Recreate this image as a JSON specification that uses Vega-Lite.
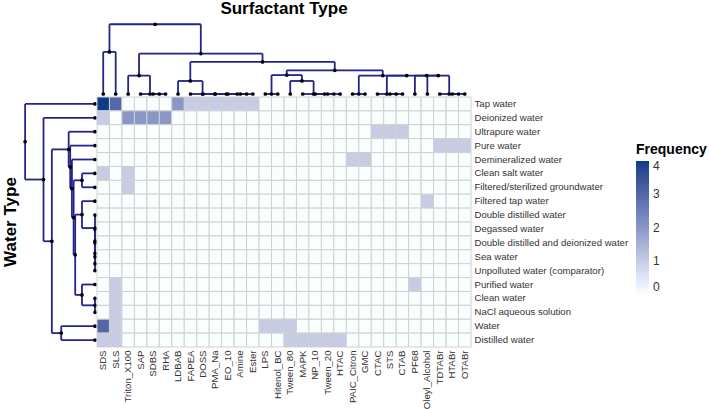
{
  "$schema": "https://vega.github.io/schema/vega-lite/v6.json",
  "padding": {"left": 1, "top": 0, "right": 0, "bottom": 0},
  "config": {
    "view": {"stroke": null},
    "font": "Liberation Sans"
  },
  "datasets": {
    "colLinks": [
      {"x": 4.5, "h": 0, "xl": 4, "hl": 0, "xr": 5, "hr": 0},
      {"x": 3.75, "h": 0, "xl": 3, "hl": 0, "xr": 4.5, "hr": 0},
      {"x": 2.875, "h": 1.41, "xl": 2, "hl": 0, "xr": 3.75, "hr": 0},
      {"x": 11.5, "h": 0, "xl": 11, "hl": 0, "xr": 12, "hr": 0},
      {"x": 10.75, "h": 0, "xl": 10, "hl": 0, "xr": 11.5, "hr": 0},
      {"x": 9.875, "h": 0, "xl": 9, "hl": 0, "xr": 10.75, "hr": 0},
      {"x": 8.9375, "h": 0, "xl": 8, "hl": 0, "xr": 9.875, "hr": 0},
      {"x": 7.9688, "h": 0, "xl": 7, "hl": 0, "xr": 8.9375, "hr": 0},
      {"x": 6.9844, "h": 1.0, "xl": 6, "hl": 0, "xr": 7.9688, "hr": 0},
      {"x": 13.5, "h": 0, "xl": 13, "hl": 0, "xr": 14, "hr": 0},
      {"x": 18.5, "h": 0, "xl": 18, "hl": 0, "xr": 19, "hr": 0},
      {"x": 17.75, "h": 0, "xl": 17, "hl": 0, "xr": 18.5, "hr": 0},
      {"x": 16.875, "h": 0, "xl": 16, "hl": 0, "xr": 17.75, "hr": 0},
      {"x": 15.9375, "h": 1.0, "xl": 15, "hl": 0, "xr": 16.875, "hr": 0},
      {"x": 14.7188, "h": 1.45, "xl": 13.5, "hl": 0, "xr": 15.9375, "hr": 1.0},
      {"x": 20.5, "h": 0, "xl": 20, "hl": 0, "xr": 21, "hr": 0},
      {"x": 23.5, "h": 0, "xl": 23, "hl": 0, "xr": 24, "hr": 0},
      {"x": 22.75, "h": 0, "xl": 22, "hl": 0, "xr": 23.5, "hr": 0},
      {"x": 28.5, "h": 0, "xl": 28, "hl": 0, "xr": 29, "hr": 0},
      {"x": 27.75, "h": 0, "xl": 27, "hl": 0, "xr": 28.5, "hr": 0},
      {"x": 26.875, "h": 1.41, "xl": 26, "hl": 0, "xr": 27.75, "hr": 0},
      {"x": 25.9375, "h": 1.41, "xl": 25, "hl": 0, "xr": 26.875, "hr": 1.41},
      {"x": 24.3438, "h": 1.41, "xl": 22.75, "hl": 0, "xr": 25.9375, "hr": 1.41},
      {"x": 22.4219, "h": 1.41, "xl": 20.5, "hl": 0, "xr": 24.3438, "hr": 1.41},
      {"x": 18.5703, "h": 1.82, "xl": 14.7188, "hl": 1.45, "xr": 22.4219, "hr": 1.41},
      {"x": 12.7773, "h": 2.46, "xl": 6.9844, "hl": 1.0, "xr": 18.5703, "hr": 1.82},
      {"x": 7.8262, "h": 3.1, "xl": 2.875, "hl": 1.41, "xr": 12.7773, "hr": 2.46},
      {"x": 0.5, "h": 3.23, "xl": 0, "hl": 0, "xr": 1, "hr": 0},
      {"x": 4.1631, "h": 5.35, "xl": 0.5, "hl": 3.23, "xr": 7.8262, "hr": 3.1}
    ],
    "colLeaves": [
      {"x": 0}, {"x": 1}, {"x": 2}, {"x": 3}, {"x": 4}, {"x": 5}, {"x": 6}, {"x": 7}, {"x": 8}, {"x": 9},
      {"x": 10}, {"x": 11}, {"x": 12}, {"x": 13}, {"x": 14}, {"x": 15}, {"x": 16}, {"x": 17}, {"x": 18}, {"x": 19},
      {"x": 20}, {"x": 21}, {"x": 22}, {"x": 23}, {"x": 24}, {"x": 25}, {"x": 26}, {"x": 27}, {"x": 28}, {"x": 29}
    ],
    "rowLinks": [
      {"y": 11.5, "h": 0, "yl": 11, "hl": 0, "yr": 12, "hr": 0},
      {"y": 10.75, "h": 0, "yl": 10, "hl": 0, "yr": 11.5, "hr": 0},
      {"y": 9.875, "h": 0, "yl": 9, "hl": 0, "yr": 10.75, "hr": 0},
      {"y": 8.9375, "h": 0, "yl": 8, "hl": 0, "yr": 9.875, "hr": 0},
      {"y": 7.9688, "h": 1.0, "yl": 7, "hl": 0, "yr": 8.9375, "hr": 0},
      {"y": 14.5, "h": 0, "yl": 14, "hl": 0, "yr": 15, "hr": 0},
      {"y": 13.75, "h": 1.0, "yl": 13, "hl": 0, "yr": 14.5, "hr": 0},
      {"y": 5.5, "h": 1.0, "yl": 5, "hl": 0, "yr": 6, "hr": 0},
      {"y": 10.8594, "h": 1.52, "yl": 7.9688, "hl": 1.0, "yr": 13.75, "hr": 1.0},
      {"y": 8.1797, "h": 1.64, "yl": 5.5, "hl": 1.0, "yr": 10.8594, "hr": 1.52},
      {"y": 6.0898, "h": 1.77, "yl": 4, "hl": 0, "yr": 8.1797, "hr": 1.64},
      {"y": 4.5449, "h": 1.9, "yl": 3, "hl": 0, "yr": 6.0898, "hr": 1.77},
      {"y": 3.2725, "h": 2.02, "yl": 2, "hl": 0, "yr": 4.5449, "hr": 1.9},
      {"y": 16.5, "h": 2.59, "yl": 16, "hl": 0, "yr": 17, "hr": 0},
      {"y": 9.8862, "h": 3.31, "yl": 3.2725, "hl": 2.02, "yr": 16.5, "hr": 2.59},
      {"y": 5.4431, "h": 3.95, "yl": 1, "hl": 0, "yr": 9.8862, "hr": 3.31},
      {"y": 2.7216, "h": 5.36, "yl": 0, "hl": 0, "yr": 5.4431, "hr": 3.95}
    ],
    "rowLeaves": [
      {"y": 0}, {"y": 1}, {"y": 2}, {"y": 3}, {"y": 4}, {"y": 5}, {"y": 6}, {"y": 7}, {"y": 8},
      {"y": 9}, {"y": 10}, {"y": 11}, {"y": 12}, {"y": 13}, {"y": 14}, {"y": 15}, {"y": 16}, {"y": 17}
    ],
    "cells": [
      {"w": "Tap water", "s": "SDS", "f": 4}, {"w": "Tap water", "s": "SLS", "f": 3}, {"w": "Tap water", "s": "Triton_X100", "f": 0}, {"w": "Tap water", "s": "SAP", "f": 0}, {"w": "Tap water", "s": "SDBS", "f": 0}, {"w": "Tap water", "s": "RHA", "f": 0}, {"w": "Tap water", "s": "LDBAB", "f": 2}, {"w": "Tap water", "s": "FAPEA", "f": 1}, {"w": "Tap water", "s": "DOSS", "f": 1}, {"w": "Tap water", "s": "PMA_Na", "f": 1}, {"w": "Tap water", "s": "EO_10", "f": 1}, {"w": "Tap water", "s": "Amine", "f": 1}, {"w": "Tap water", "s": "Ester", "f": 1}, {"w": "Tap water", "s": "LPS", "f": 0}, {"w": "Tap water", "s": "Hitenol_BC", "f": 0}, {"w": "Tap water", "s": "Tween_80", "f": 0}, {"w": "Tap water", "s": "MAPK", "f": 0}, {"w": "Tap water", "s": "NP_10", "f": 0}, {"w": "Tap water", "s": "Tween_20", "f": 0}, {"w": "Tap water", "s": "HTAC", "f": 0}, {"w": "Tap water", "s": "PAIC_Citron", "f": 0}, {"w": "Tap water", "s": "GMC", "f": 0}, {"w": "Tap water", "s": "CTAC", "f": 0}, {"w": "Tap water", "s": "STS", "f": 0}, {"w": "Tap water", "s": "CTAB", "f": 0}, {"w": "Tap water", "s": "PF68", "f": 0}, {"w": "Tap water", "s": "Oleyl_Alcohol", "f": 0}, {"w": "Tap water", "s": "TDTABr", "f": 0}, {"w": "Tap water", "s": "HTABr", "f": 0}, {"w": "Tap water", "s": "OTABr", "f": 0},
      {"w": "Deionized water", "s": "SDS", "f": 1}, {"w": "Deionized water", "s": "SLS", "f": 0}, {"w": "Deionized water", "s": "Triton_X100", "f": 2}, {"w": "Deionized water", "s": "SAP", "f": 2}, {"w": "Deionized water", "s": "SDBS", "f": 2}, {"w": "Deionized water", "s": "RHA", "f": 2}, {"w": "Deionized water", "s": "LDBAB", "f": 0}, {"w": "Deionized water", "s": "FAPEA", "f": 0}, {"w": "Deionized water", "s": "DOSS", "f": 0}, {"w": "Deionized water", "s": "PMA_Na", "f": 0}, {"w": "Deionized water", "s": "EO_10", "f": 0}, {"w": "Deionized water", "s": "Amine", "f": 0}, {"w": "Deionized water", "s": "Ester", "f": 0}, {"w": "Deionized water", "s": "LPS", "f": 0}, {"w": "Deionized water", "s": "Hitenol_BC", "f": 0}, {"w": "Deionized water", "s": "Tween_80", "f": 0}, {"w": "Deionized water", "s": "MAPK", "f": 0}, {"w": "Deionized water", "s": "NP_10", "f": 0}, {"w": "Deionized water", "s": "Tween_20", "f": 0}, {"w": "Deionized water", "s": "HTAC", "f": 0}, {"w": "Deionized water", "s": "PAIC_Citron", "f": 0}, {"w": "Deionized water", "s": "GMC", "f": 0}, {"w": "Deionized water", "s": "CTAC", "f": 0}, {"w": "Deionized water", "s": "STS", "f": 0}, {"w": "Deionized water", "s": "CTAB", "f": 0}, {"w": "Deionized water", "s": "PF68", "f": 0}, {"w": "Deionized water", "s": "Oleyl_Alcohol", "f": 0}, {"w": "Deionized water", "s": "TDTABr", "f": 0}, {"w": "Deionized water", "s": "HTABr", "f": 0}, {"w": "Deionized water", "s": "OTABr", "f": 0},
      {"w": "Ultrapure water", "s": "SDS", "f": 0}, {"w": "Ultrapure water", "s": "SLS", "f": 0}, {"w": "Ultrapure water", "s": "Triton_X100", "f": 0}, {"w": "Ultrapure water", "s": "SAP", "f": 0}, {"w": "Ultrapure water", "s": "SDBS", "f": 0}, {"w": "Ultrapure water", "s": "RHA", "f": 0}, {"w": "Ultrapure water", "s": "LDBAB", "f": 0}, {"w": "Ultrapure water", "s": "FAPEA", "f": 0}, {"w": "Ultrapure water", "s": "DOSS", "f": 0}, {"w": "Ultrapure water", "s": "PMA_Na", "f": 0}, {"w": "Ultrapure water", "s": "EO_10", "f": 0}, {"w": "Ultrapure water", "s": "Amine", "f": 0}, {"w": "Ultrapure water", "s": "Ester", "f": 0}, {"w": "Ultrapure water", "s": "LPS", "f": 0}, {"w": "Ultrapure water", "s": "Hitenol_BC", "f": 0}, {"w": "Ultrapure water", "s": "Tween_80", "f": 0}, {"w": "Ultrapure water", "s": "MAPK", "f": 0}, {"w": "Ultrapure water", "s": "NP_10", "f": 0}, {"w": "Ultrapure water", "s": "Tween_20", "f": 0}, {"w": "Ultrapure water", "s": "HTAC", "f": 0}, {"w": "Ultrapure water", "s": "PAIC_Citron", "f": 0}, {"w": "Ultrapure water", "s": "GMC", "f": 0}, {"w": "Ultrapure water", "s": "CTAC", "f": 1}, {"w": "Ultrapure water", "s": "STS", "f": 1}, {"w": "Ultrapure water", "s": "CTAB", "f": 1}, {"w": "Ultrapure water", "s": "PF68", "f": 0}, {"w": "Ultrapure water", "s": "Oleyl_Alcohol", "f": 0}, {"w": "Ultrapure water", "s": "TDTABr", "f": 0}, {"w": "Ultrapure water", "s": "HTABr", "f": 0}, {"w": "Ultrapure water", "s": "OTABr", "f": 0},
      {"w": "Pure water", "s": "SDS", "f": 0}, {"w": "Pure water", "s": "SLS", "f": 0}, {"w": "Pure water", "s": "Triton_X100", "f": 0}, {"w": "Pure water", "s": "SAP", "f": 0}, {"w": "Pure water", "s": "SDBS", "f": 0}, {"w": "Pure water", "s": "RHA", "f": 0}, {"w": "Pure water", "s": "LDBAB", "f": 0}, {"w": "Pure water", "s": "FAPEA", "f": 0}, {"w": "Pure water", "s": "DOSS", "f": 0}, {"w": "Pure water", "s": "PMA_Na", "f": 0}, {"w": "Pure water", "s": "EO_10", "f": 0}, {"w": "Pure water", "s": "Amine", "f": 0}, {"w": "Pure water", "s": "Ester", "f": 0}, {"w": "Pure water", "s": "LPS", "f": 0}, {"w": "Pure water", "s": "Hitenol_BC", "f": 0}, {"w": "Pure water", "s": "Tween_80", "f": 0}, {"w": "Pure water", "s": "MAPK", "f": 0}, {"w": "Pure water", "s": "NP_10", "f": 0}, {"w": "Pure water", "s": "Tween_20", "f": 0}, {"w": "Pure water", "s": "HTAC", "f": 0}, {"w": "Pure water", "s": "PAIC_Citron", "f": 0}, {"w": "Pure water", "s": "GMC", "f": 0}, {"w": "Pure water", "s": "CTAC", "f": 0}, {"w": "Pure water", "s": "STS", "f": 0}, {"w": "Pure water", "s": "CTAB", "f": 0}, {"w": "Pure water", "s": "PF68", "f": 0}, {"w": "Pure water", "s": "Oleyl_Alcohol", "f": 0}, {"w": "Pure water", "s": "TDTABr", "f": 1}, {"w": "Pure water", "s": "HTABr", "f": 1}, {"w": "Pure water", "s": "OTABr", "f": 1},
      {"w": "Demineralized water", "s": "SDS", "f": 0}, {"w": "Demineralized water", "s": "SLS", "f": 0}, {"w": "Demineralized water", "s": "Triton_X100", "f": 0}, {"w": "Demineralized water", "s": "SAP", "f": 0}, {"w": "Demineralized water", "s": "SDBS", "f": 0}, {"w": "Demineralized water", "s": "RHA", "f": 0}, {"w": "Demineralized water", "s": "LDBAB", "f": 0}, {"w": "Demineralized water", "s": "FAPEA", "f": 0}, {"w": "Demineralized water", "s": "DOSS", "f": 0}, {"w": "Demineralized water", "s": "PMA_Na", "f": 0}, {"w": "Demineralized water", "s": "EO_10", "f": 0}, {"w": "Demineralized water", "s": "Amine", "f": 0}, {"w": "Demineralized water", "s": "Ester", "f": 0}, {"w": "Demineralized water", "s": "LPS", "f": 0}, {"w": "Demineralized water", "s": "Hitenol_BC", "f": 0}, {"w": "Demineralized water", "s": "Tween_80", "f": 0}, {"w": "Demineralized water", "s": "MAPK", "f": 0}, {"w": "Demineralized water", "s": "NP_10", "f": 0}, {"w": "Demineralized water", "s": "Tween_20", "f": 0}, {"w": "Demineralized water", "s": "HTAC", "f": 0}, {"w": "Demineralized water", "s": "PAIC_Citron", "f": 1}, {"w": "Demineralized water", "s": "GMC", "f": 1}, {"w": "Demineralized water", "s": "CTAC", "f": 0}, {"w": "Demineralized water", "s": "STS", "f": 0}, {"w": "Demineralized water", "s": "CTAB", "f": 0}, {"w": "Demineralized water", "s": "PF68", "f": 0}, {"w": "Demineralized water", "s": "Oleyl_Alcohol", "f": 0}, {"w": "Demineralized water", "s": "TDTABr", "f": 0}, {"w": "Demineralized water", "s": "HTABr", "f": 0}, {"w": "Demineralized water", "s": "OTABr", "f": 0},
      {"w": "Clean salt water", "s": "SDS", "f": 1}, {"w": "Clean salt water", "s": "SLS", "f": 0}, {"w": "Clean salt water", "s": "Triton_X100", "f": 1}, {"w": "Clean salt water", "s": "SAP", "f": 0}, {"w": "Clean salt water", "s": "SDBS", "f": 0}, {"w": "Clean salt water", "s": "RHA", "f": 0}, {"w": "Clean salt water", "s": "LDBAB", "f": 0}, {"w": "Clean salt water", "s": "FAPEA", "f": 0}, {"w": "Clean salt water", "s": "DOSS", "f": 0}, {"w": "Clean salt water", "s": "PMA_Na", "f": 0}, {"w": "Clean salt water", "s": "EO_10", "f": 0}, {"w": "Clean salt water", "s": "Amine", "f": 0}, {"w": "Clean salt water", "s": "Ester", "f": 0}, {"w": "Clean salt water", "s": "LPS", "f": 0}, {"w": "Clean salt water", "s": "Hitenol_BC", "f": 0}, {"w": "Clean salt water", "s": "Tween_80", "f": 0}, {"w": "Clean salt water", "s": "MAPK", "f": 0}, {"w": "Clean salt water", "s": "NP_10", "f": 0}, {"w": "Clean salt water", "s": "Tween_20", "f": 0}, {"w": "Clean salt water", "s": "HTAC", "f": 0}, {"w": "Clean salt water", "s": "PAIC_Citron", "f": 0}, {"w": "Clean salt water", "s": "GMC", "f": 0}, {"w": "Clean salt water", "s": "CTAC", "f": 0}, {"w": "Clean salt water", "s": "STS", "f": 0}, {"w": "Clean salt water", "s": "CTAB", "f": 0}, {"w": "Clean salt water", "s": "PF68", "f": 0}, {"w": "Clean salt water", "s": "Oleyl_Alcohol", "f": 0}, {"w": "Clean salt water", "s": "TDTABr", "f": 0}, {"w": "Clean salt water", "s": "HTABr", "f": 0}, {"w": "Clean salt water", "s": "OTABr", "f": 0},
      {"w": "Filtered/sterilized groundwater", "s": "SDS", "f": 0}, {"w": "Filtered/sterilized groundwater", "s": "SLS", "f": 0}, {"w": "Filtered/sterilized groundwater", "s": "Triton_X100", "f": 1}, {"w": "Filtered/sterilized groundwater", "s": "SAP", "f": 0}, {"w": "Filtered/sterilized groundwater", "s": "SDBS", "f": 0}, {"w": "Filtered/sterilized groundwater", "s": "RHA", "f": 0}, {"w": "Filtered/sterilized groundwater", "s": "LDBAB", "f": 0}, {"w": "Filtered/sterilized groundwater", "s": "FAPEA", "f": 0}, {"w": "Filtered/sterilized groundwater", "s": "DOSS", "f": 0}, {"w": "Filtered/sterilized groundwater", "s": "PMA_Na", "f": 0}, {"w": "Filtered/sterilized groundwater", "s": "EO_10", "f": 0}, {"w": "Filtered/sterilized groundwater", "s": "Amine", "f": 0}, {"w": "Filtered/sterilized groundwater", "s": "Ester", "f": 0}, {"w": "Filtered/sterilized groundwater", "s": "LPS", "f": 0}, {"w": "Filtered/sterilized groundwater", "s": "Hitenol_BC", "f": 0}, {"w": "Filtered/sterilized groundwater", "s": "Tween_80", "f": 0}, {"w": "Filtered/sterilized groundwater", "s": "MAPK", "f": 0}, {"w": "Filtered/sterilized groundwater", "s": "NP_10", "f": 0}, {"w": "Filtered/sterilized groundwater", "s": "Tween_20", "f": 0}, {"w": "Filtered/sterilized groundwater", "s": "HTAC", "f": 0}, {"w": "Filtered/sterilized groundwater", "s": "PAIC_Citron", "f": 0}, {"w": "Filtered/sterilized groundwater", "s": "GMC", "f": 0}, {"w": "Filtered/sterilized groundwater", "s": "CTAC", "f": 0}, {"w": "Filtered/sterilized groundwater", "s": "STS", "f": 0}, {"w": "Filtered/sterilized groundwater", "s": "CTAB", "f": 0}, {"w": "Filtered/sterilized groundwater", "s": "PF68", "f": 0}, {"w": "Filtered/sterilized groundwater", "s": "Oleyl_Alcohol", "f": 0}, {"w": "Filtered/sterilized groundwater", "s": "TDTABr", "f": 0}, {"w": "Filtered/sterilized groundwater", "s": "HTABr", "f": 0}, {"w": "Filtered/sterilized groundwater", "s": "OTABr", "f": 0},
      {"w": "Filtered tap water", "s": "SDS", "f": 0}, {"w": "Filtered tap water", "s": "SLS", "f": 0}, {"w": "Filtered tap water", "s": "Triton_X100", "f": 0}, {"w": "Filtered tap water", "s": "SAP", "f": 0}, {"w": "Filtered tap water", "s": "SDBS", "f": 0}, {"w": "Filtered tap water", "s": "RHA", "f": 0}, {"w": "Filtered tap water", "s": "LDBAB", "f": 0}, {"w": "Filtered tap water", "s": "FAPEA", "f": 0}, {"w": "Filtered tap water", "s": "DOSS", "f": 0}, {"w": "Filtered tap water", "s": "PMA_Na", "f": 0}, {"w": "Filtered tap water", "s": "EO_10", "f": 0}, {"w": "Filtered tap water", "s": "Amine", "f": 0}, {"w": "Filtered tap water", "s": "Ester", "f": 0}, {"w": "Filtered tap water", "s": "LPS", "f": 0}, {"w": "Filtered tap water", "s": "Hitenol_BC", "f": 0}, {"w": "Filtered tap water", "s": "Tween_80", "f": 0}, {"w": "Filtered tap water", "s": "MAPK", "f": 0}, {"w": "Filtered tap water", "s": "NP_10", "f": 0}, {"w": "Filtered tap water", "s": "Tween_20", "f": 0}, {"w": "Filtered tap water", "s": "HTAC", "f": 0}, {"w": "Filtered tap water", "s": "PAIC_Citron", "f": 0}, {"w": "Filtered tap water", "s": "GMC", "f": 0}, {"w": "Filtered tap water", "s": "CTAC", "f": 0}, {"w": "Filtered tap water", "s": "STS", "f": 0}, {"w": "Filtered tap water", "s": "CTAB", "f": 0}, {"w": "Filtered tap water", "s": "PF68", "f": 0}, {"w": "Filtered tap water", "s": "Oleyl_Alcohol", "f": 1}, {"w": "Filtered tap water", "s": "TDTABr", "f": 0}, {"w": "Filtered tap water", "s": "HTABr", "f": 0}, {"w": "Filtered tap water", "s": "OTABr", "f": 0},
      {"w": "Double distilled water", "s": "SDS", "f": 0}, {"w": "Double distilled water", "s": "SLS", "f": 0}, {"w": "Double distilled water", "s": "Triton_X100", "f": 0}, {"w": "Double distilled water", "s": "SAP", "f": 0}, {"w": "Double distilled water", "s": "SDBS", "f": 0}, {"w": "Double distilled water", "s": "RHA", "f": 0}, {"w": "Double distilled water", "s": "LDBAB", "f": 0}, {"w": "Double distilled water", "s": "FAPEA", "f": 0}, {"w": "Double distilled water", "s": "DOSS", "f": 0}, {"w": "Double distilled water", "s": "PMA_Na", "f": 0}, {"w": "Double distilled water", "s": "EO_10", "f": 0}, {"w": "Double distilled water", "s": "Amine", "f": 0}, {"w": "Double distilled water", "s": "Ester", "f": 0}, {"w": "Double distilled water", "s": "LPS", "f": 0}, {"w": "Double distilled water", "s": "Hitenol_BC", "f": 0}, {"w": "Double distilled water", "s": "Tween_80", "f": 0}, {"w": "Double distilled water", "s": "MAPK", "f": 0}, {"w": "Double distilled water", "s": "NP_10", "f": 0}, {"w": "Double distilled water", "s": "Tween_20", "f": 0}, {"w": "Double distilled water", "s": "HTAC", "f": 0}, {"w": "Double distilled water", "s": "PAIC_Citron", "f": 0}, {"w": "Double distilled water", "s": "GMC", "f": 0}, {"w": "Double distilled water", "s": "CTAC", "f": 0}, {"w": "Double distilled water", "s": "STS", "f": 0}, {"w": "Double distilled water", "s": "CTAB", "f": 0}, {"w": "Double distilled water", "s": "PF68", "f": 0}, {"w": "Double distilled water", "s": "Oleyl_Alcohol", "f": 0}, {"w": "Double distilled water", "s": "TDTABr", "f": 0}, {"w": "Double distilled water", "s": "HTABr", "f": 0}, {"w": "Double distilled water", "s": "OTABr", "f": 0},
      {"w": "Degassed water", "s": "SDS", "f": 0}, {"w": "Degassed water", "s": "SLS", "f": 0}, {"w": "Degassed water", "s": "Triton_X100", "f": 0}, {"w": "Degassed water", "s": "SAP", "f": 0}, {"w": "Degassed water", "s": "SDBS", "f": 0}, {"w": "Degassed water", "s": "RHA", "f": 0}, {"w": "Degassed water", "s": "LDBAB", "f": 0}, {"w": "Degassed water", "s": "FAPEA", "f": 0}, {"w": "Degassed water", "s": "DOSS", "f": 0}, {"w": "Degassed water", "s": "PMA_Na", "f": 0}, {"w": "Degassed water", "s": "EO_10", "f": 0}, {"w": "Degassed water", "s": "Amine", "f": 0}, {"w": "Degassed water", "s": "Ester", "f": 0}, {"w": "Degassed water", "s": "LPS", "f": 0}, {"w": "Degassed water", "s": "Hitenol_BC", "f": 0}, {"w": "Degassed water", "s": "Tween_80", "f": 0}, {"w": "Degassed water", "s": "MAPK", "f": 0}, {"w": "Degassed water", "s": "NP_10", "f": 0}, {"w": "Degassed water", "s": "Tween_20", "f": 0}, {"w": "Degassed water", "s": "HTAC", "f": 0}, {"w": "Degassed water", "s": "PAIC_Citron", "f": 0}, {"w": "Degassed water", "s": "GMC", "f": 0}, {"w": "Degassed water", "s": "CTAC", "f": 0}, {"w": "Degassed water", "s": "STS", "f": 0}, {"w": "Degassed water", "s": "CTAB", "f": 0}, {"w": "Degassed water", "s": "PF68", "f": 0}, {"w": "Degassed water", "s": "Oleyl_Alcohol", "f": 0}, {"w": "Degassed water", "s": "TDTABr", "f": 0}, {"w": "Degassed water", "s": "HTABr", "f": 0}, {"w": "Degassed water", "s": "OTABr", "f": 0},
      {"w": "Double distilled and deionized water", "s": "SDS", "f": 0}, {"w": "Double distilled and deionized water", "s": "SLS", "f": 0}, {"w": "Double distilled and deionized water", "s": "Triton_X100", "f": 0}, {"w": "Double distilled and deionized water", "s": "SAP", "f": 0}, {"w": "Double distilled and deionized water", "s": "SDBS", "f": 0}, {"w": "Double distilled and deionized water", "s": "RHA", "f": 0}, {"w": "Double distilled and deionized water", "s": "LDBAB", "f": 0}, {"w": "Double distilled and deionized water", "s": "FAPEA", "f": 0}, {"w": "Double distilled and deionized water", "s": "DOSS", "f": 0}, {"w": "Double distilled and deionized water", "s": "PMA_Na", "f": 0}, {"w": "Double distilled and deionized water", "s": "EO_10", "f": 0}, {"w": "Double distilled and deionized water", "s": "Amine", "f": 0}, {"w": "Double distilled and deionized water", "s": "Ester", "f": 0}, {"w": "Double distilled and deionized water", "s": "LPS", "f": 0}, {"w": "Double distilled and deionized water", "s": "Hitenol_BC", "f": 0}, {"w": "Double distilled and deionized water", "s": "Tween_80", "f": 0}, {"w": "Double distilled and deionized water", "s": "MAPK", "f": 0}, {"w": "Double distilled and deionized water", "s": "NP_10", "f": 0}, {"w": "Double distilled and deionized water", "s": "Tween_20", "f": 0}, {"w": "Double distilled and deionized water", "s": "HTAC", "f": 0}, {"w": "Double distilled and deionized water", "s": "PAIC_Citron", "f": 0}, {"w": "Double distilled and deionized water", "s": "GMC", "f": 0}, {"w": "Double distilled and deionized water", "s": "CTAC", "f": 0}, {"w": "Double distilled and deionized water", "s": "STS", "f": 0}, {"w": "Double distilled and deionized water", "s": "CTAB", "f": 0}, {"w": "Double distilled and deionized water", "s": "PF68", "f": 0}, {"w": "Double distilled and deionized water", "s": "Oleyl_Alcohol", "f": 0}, {"w": "Double distilled and deionized water", "s": "TDTABr", "f": 0}, {"w": "Double distilled and deionized water", "s": "HTABr", "f": 0}, {"w": "Double distilled and deionized water", "s": "OTABr", "f": 0},
      {"w": "Sea water", "s": "SDS", "f": 0}, {"w": "Sea water", "s": "SLS", "f": 0}, {"w": "Sea water", "s": "Triton_X100", "f": 0}, {"w": "Sea water", "s": "SAP", "f": 0}, {"w": "Sea water", "s": "SDBS", "f": 0}, {"w": "Sea water", "s": "RHA", "f": 0}, {"w": "Sea water", "s": "LDBAB", "f": 0}, {"w": "Sea water", "s": "FAPEA", "f": 0}, {"w": "Sea water", "s": "DOSS", "f": 0}, {"w": "Sea water", "s": "PMA_Na", "f": 0}, {"w": "Sea water", "s": "EO_10", "f": 0}, {"w": "Sea water", "s": "Amine", "f": 0}, {"w": "Sea water", "s": "Ester", "f": 0}, {"w": "Sea water", "s": "LPS", "f": 0}, {"w": "Sea water", "s": "Hitenol_BC", "f": 0}, {"w": "Sea water", "s": "Tween_80", "f": 0}, {"w": "Sea water", "s": "MAPK", "f": 0}, {"w": "Sea water", "s": "NP_10", "f": 0}, {"w": "Sea water", "s": "Tween_20", "f": 0}, {"w": "Sea water", "s": "HTAC", "f": 0}, {"w": "Sea water", "s": "PAIC_Citron", "f": 0}, {"w": "Sea water", "s": "GMC", "f": 0}, {"w": "Sea water", "s": "CTAC", "f": 0}, {"w": "Sea water", "s": "STS", "f": 0}, {"w": "Sea water", "s": "CTAB", "f": 0}, {"w": "Sea water", "s": "PF68", "f": 0}, {"w": "Sea water", "s": "Oleyl_Alcohol", "f": 0}, {"w": "Sea water", "s": "TDTABr", "f": 0}, {"w": "Sea water", "s": "HTABr", "f": 0}, {"w": "Sea water", "s": "OTABr", "f": 0},
      {"w": "Unpolluted water (comparator)", "s": "SDS", "f": 0}, {"w": "Unpolluted water (comparator)", "s": "SLS", "f": 0}, {"w": "Unpolluted water (comparator)", "s": "Triton_X100", "f": 0}, {"w": "Unpolluted water (comparator)", "s": "SAP", "f": 0}, {"w": "Unpolluted water (comparator)", "s": "SDBS", "f": 0}, {"w": "Unpolluted water (comparator)", "s": "RHA", "f": 0}, {"w": "Unpolluted water (comparator)", "s": "LDBAB", "f": 0}, {"w": "Unpolluted water (comparator)", "s": "FAPEA", "f": 0}, {"w": "Unpolluted water (comparator)", "s": "DOSS", "f": 0}, {"w": "Unpolluted water (comparator)", "s": "PMA_Na", "f": 0}, {"w": "Unpolluted water (comparator)", "s": "EO_10", "f": 0}, {"w": "Unpolluted water (comparator)", "s": "Amine", "f": 0}, {"w": "Unpolluted water (comparator)", "s": "Ester", "f": 0}, {"w": "Unpolluted water (comparator)", "s": "LPS", "f": 0}, {"w": "Unpolluted water (comparator)", "s": "Hitenol_BC", "f": 0}, {"w": "Unpolluted water (comparator)", "s": "Tween_80", "f": 0}, {"w": "Unpolluted water (comparator)", "s": "MAPK", "f": 0}, {"w": "Unpolluted water (comparator)", "s": "NP_10", "f": 0}, {"w": "Unpolluted water (comparator)", "s": "Tween_20", "f": 0}, {"w": "Unpolluted water (comparator)", "s": "HTAC", "f": 0}, {"w": "Unpolluted water (comparator)", "s": "PAIC_Citron", "f": 0}, {"w": "Unpolluted water (comparator)", "s": "GMC", "f": 0}, {"w": "Unpolluted water (comparator)", "s": "CTAC", "f": 0}, {"w": "Unpolluted water (comparator)", "s": "STS", "f": 0}, {"w": "Unpolluted water (comparator)", "s": "CTAB", "f": 0}, {"w": "Unpolluted water (comparator)", "s": "PF68", "f": 0}, {"w": "Unpolluted water (comparator)", "s": "Oleyl_Alcohol", "f": 0}, {"w": "Unpolluted water (comparator)", "s": "TDTABr", "f": 0}, {"w": "Unpolluted water (comparator)", "s": "HTABr", "f": 0}, {"w": "Unpolluted water (comparator)", "s": "OTABr", "f": 0},
      {"w": "Purified water", "s": "SDS", "f": 0}, {"w": "Purified water", "s": "SLS", "f": 1}, {"w": "Purified water", "s": "Triton_X100", "f": 0}, {"w": "Purified water", "s": "SAP", "f": 0}, {"w": "Purified water", "s": "SDBS", "f": 0}, {"w": "Purified water", "s": "RHA", "f": 0}, {"w": "Purified water", "s": "LDBAB", "f": 0}, {"w": "Purified water", "s": "FAPEA", "f": 0}, {"w": "Purified water", "s": "DOSS", "f": 0}, {"w": "Purified water", "s": "PMA_Na", "f": 0}, {"w": "Purified water", "s": "EO_10", "f": 0}, {"w": "Purified water", "s": "Amine", "f": 0}, {"w": "Purified water", "s": "Ester", "f": 0}, {"w": "Purified water", "s": "LPS", "f": 0}, {"w": "Purified water", "s": "Hitenol_BC", "f": 0}, {"w": "Purified water", "s": "Tween_80", "f": 0}, {"w": "Purified water", "s": "MAPK", "f": 0}, {"w": "Purified water", "s": "NP_10", "f": 0}, {"w": "Purified water", "s": "Tween_20", "f": 0}, {"w": "Purified water", "s": "HTAC", "f": 0}, {"w": "Purified water", "s": "PAIC_Citron", "f": 0}, {"w": "Purified water", "s": "GMC", "f": 0}, {"w": "Purified water", "s": "CTAC", "f": 0}, {"w": "Purified water", "s": "STS", "f": 0}, {"w": "Purified water", "s": "CTAB", "f": 0}, {"w": "Purified water", "s": "PF68", "f": 1}, {"w": "Purified water", "s": "Oleyl_Alcohol", "f": 0}, {"w": "Purified water", "s": "TDTABr", "f": 0}, {"w": "Purified water", "s": "HTABr", "f": 0}, {"w": "Purified water", "s": "OTABr", "f": 0},
      {"w": "Clean water", "s": "SDS", "f": 0}, {"w": "Clean water", "s": "SLS", "f": 1}, {"w": "Clean water", "s": "Triton_X100", "f": 0}, {"w": "Clean water", "s": "SAP", "f": 0}, {"w": "Clean water", "s": "SDBS", "f": 0}, {"w": "Clean water", "s": "RHA", "f": 0}, {"w": "Clean water", "s": "LDBAB", "f": 0}, {"w": "Clean water", "s": "FAPEA", "f": 0}, {"w": "Clean water", "s": "DOSS", "f": 0}, {"w": "Clean water", "s": "PMA_Na", "f": 0}, {"w": "Clean water", "s": "EO_10", "f": 0}, {"w": "Clean water", "s": "Amine", "f": 0}, {"w": "Clean water", "s": "Ester", "f": 0}, {"w": "Clean water", "s": "LPS", "f": 0}, {"w": "Clean water", "s": "Hitenol_BC", "f": 0}, {"w": "Clean water", "s": "Tween_80", "f": 0}, {"w": "Clean water", "s": "MAPK", "f": 0}, {"w": "Clean water", "s": "NP_10", "f": 0}, {"w": "Clean water", "s": "Tween_20", "f": 0}, {"w": "Clean water", "s": "HTAC", "f": 0}, {"w": "Clean water", "s": "PAIC_Citron", "f": 0}, {"w": "Clean water", "s": "GMC", "f": 0}, {"w": "Clean water", "s": "CTAC", "f": 0}, {"w": "Clean water", "s": "STS", "f": 0}, {"w": "Clean water", "s": "CTAB", "f": 0}, {"w": "Clean water", "s": "PF68", "f": 0}, {"w": "Clean water", "s": "Oleyl_Alcohol", "f": 0}, {"w": "Clean water", "s": "TDTABr", "f": 0}, {"w": "Clean water", "s": "HTABr", "f": 0}, {"w": "Clean water", "s": "OTABr", "f": 0},
      {"w": "NaCl aqueous solution", "s": "SDS", "f": 0}, {"w": "NaCl aqueous solution", "s": "SLS", "f": 1}, {"w": "NaCl aqueous solution", "s": "Triton_X100", "f": 0}, {"w": "NaCl aqueous solution", "s": "SAP", "f": 0}, {"w": "NaCl aqueous solution", "s": "SDBS", "f": 0}, {"w": "NaCl aqueous solution", "s": "RHA", "f": 0}, {"w": "NaCl aqueous solution", "s": "LDBAB", "f": 0}, {"w": "NaCl aqueous solution", "s": "FAPEA", "f": 0}, {"w": "NaCl aqueous solution", "s": "DOSS", "f": 0}, {"w": "NaCl aqueous solution", "s": "PMA_Na", "f": 0}, {"w": "NaCl aqueous solution", "s": "EO_10", "f": 0}, {"w": "NaCl aqueous solution", "s": "Amine", "f": 0}, {"w": "NaCl aqueous solution", "s": "Ester", "f": 0}, {"w": "NaCl aqueous solution", "s": "LPS", "f": 0}, {"w": "NaCl aqueous solution", "s": "Hitenol_BC", "f": 0}, {"w": "NaCl aqueous solution", "s": "Tween_80", "f": 0}, {"w": "NaCl aqueous solution", "s": "MAPK", "f": 0}, {"w": "NaCl aqueous solution", "s": "NP_10", "f": 0}, {"w": "NaCl aqueous solution", "s": "Tween_20", "f": 0}, {"w": "NaCl aqueous solution", "s": "HTAC", "f": 0}, {"w": "NaCl aqueous solution", "s": "PAIC_Citron", "f": 0}, {"w": "NaCl aqueous solution", "s": "GMC", "f": 0}, {"w": "NaCl aqueous solution", "s": "CTAC", "f": 0}, {"w": "NaCl aqueous solution", "s": "STS", "f": 0}, {"w": "NaCl aqueous solution", "s": "CTAB", "f": 0}, {"w": "NaCl aqueous solution", "s": "PF68", "f": 0}, {"w": "NaCl aqueous solution", "s": "Oleyl_Alcohol", "f": 0}, {"w": "NaCl aqueous solution", "s": "TDTABr", "f": 0}, {"w": "NaCl aqueous solution", "s": "HTABr", "f": 0}, {"w": "NaCl aqueous solution", "s": "OTABr", "f": 0},
      {"w": "Water", "s": "SDS", "f": 3}, {"w": "Water", "s": "SLS", "f": 1}, {"w": "Water", "s": "Triton_X100", "f": 0}, {"w": "Water", "s": "SAP", "f": 0}, {"w": "Water", "s": "SDBS", "f": 0}, {"w": "Water", "s": "RHA", "f": 0}, {"w": "Water", "s": "LDBAB", "f": 0}, {"w": "Water", "s": "FAPEA", "f": 0}, {"w": "Water", "s": "DOSS", "f": 0}, {"w": "Water", "s": "PMA_Na", "f": 0}, {"w": "Water", "s": "EO_10", "f": 0}, {"w": "Water", "s": "Amine", "f": 0}, {"w": "Water", "s": "Ester", "f": 0}, {"w": "Water", "s": "LPS", "f": 1}, {"w": "Water", "s": "Hitenol_BC", "f": 1}, {"w": "Water", "s": "Tween_80", "f": 1}, {"w": "Water", "s": "MAPK", "f": 0}, {"w": "Water", "s": "NP_10", "f": 0}, {"w": "Water", "s": "Tween_20", "f": 0}, {"w": "Water", "s": "HTAC", "f": 0}, {"w": "Water", "s": "PAIC_Citron", "f": 0}, {"w": "Water", "s": "GMC", "f": 0}, {"w": "Water", "s": "CTAC", "f": 0}, {"w": "Water", "s": "STS", "f": 0}, {"w": "Water", "s": "CTAB", "f": 0}, {"w": "Water", "s": "PF68", "f": 0}, {"w": "Water", "s": "Oleyl_Alcohol", "f": 0}, {"w": "Water", "s": "TDTABr", "f": 0}, {"w": "Water", "s": "HTABr", "f": 0}, {"w": "Water", "s": "OTABr", "f": 0},
      {"w": "Distilled water", "s": "SDS", "f": 1}, {"w": "Distilled water", "s": "SLS", "f": 1}, {"w": "Distilled water", "s": "Triton_X100", "f": 0}, {"w": "Distilled water", "s": "SAP", "f": 0}, {"w": "Distilled water", "s": "SDBS", "f": 0}, {"w": "Distilled water", "s": "RHA", "f": 0}, {"w": "Distilled water", "s": "LDBAB", "f": 0}, {"w": "Distilled water", "s": "FAPEA", "f": 0}, {"w": "Distilled water", "s": "DOSS", "f": 0}, {"w": "Distilled water", "s": "PMA_Na", "f": 0}, {"w": "Distilled water", "s": "EO_10", "f": 0}, {"w": "Distilled water", "s": "Amine", "f": 0}, {"w": "Distilled water", "s": "Ester", "f": 0}, {"w": "Distilled water", "s": "LPS", "f": 0}, {"w": "Distilled water", "s": "Hitenol_BC", "f": 0}, {"w": "Distilled water", "s": "Tween_80", "f": 1}, {"w": "Distilled water", "s": "MAPK", "f": 1}, {"w": "Distilled water", "s": "NP_10", "f": 1}, {"w": "Distilled water", "s": "Tween_20", "f": 1}, {"w": "Distilled water", "s": "HTAC", "f": 1}, {"w": "Distilled water", "s": "PAIC_Citron", "f": 0}, {"w": "Distilled water", "s": "GMC", "f": 0}, {"w": "Distilled water", "s": "CTAC", "f": 0}, {"w": "Distilled water", "s": "STS", "f": 0}, {"w": "Distilled water", "s": "CTAB", "f": 0}, {"w": "Distilled water", "s": "PF68", "f": 0}, {"w": "Distilled water", "s": "Oleyl_Alcohol", "f": 0}, {"w": "Distilled water", "s": "TDTABr", "f": 0}, {"w": "Distilled water", "s": "HTABr", "f": 0}, {"w": "Distilled water", "s": "OTABr", "f": 0}
    ]
  },
  "columns": 2,
  "spacing": {"row": 3, "column": 2},
  "bounds": "flush",
  "concat": [
    {
      "width": 73,
      "height": 73,
      "data": {"values": [{}]},
      "mark": {"type": "text", "text": ""},
      "encoding": {}
    },
    {
      "width": 374,
      "height": 73,
      "title": {"text": "Surfactant Type", "fontSize": 17, "fontWeight": "bold", "color": "#000000", "anchor": "middle", "offset": 3},
      "layer": [
        {
          "data": {"name": "colLinks"},
          "mark": {"type": "rule", "color": "#23238E", "strokeWidth": 1.8},
          "encoding": {
            "x": {"field": "xl", "type": "quantitative", "scale": {"domain": [-0.5, 29.5], "nice": false, "zero": false}, "axis": null},
            "x2": {"field": "xr"},
            "y": {"field": "h", "type": "quantitative", "scale": {"domain": [0, 5.6], "nice": false}, "axis": null}
          }
        },
        {
          "data": {"name": "colLinks"},
          "mark": {"type": "rule", "color": "#23238E", "strokeWidth": 1.8},
          "encoding": {
            "x": {"field": "xl", "type": "quantitative", "axis": null},
            "y": {"field": "hl", "type": "quantitative", "axis": null},
            "y2": {"field": "h"}
          }
        },
        {
          "data": {"name": "colLinks"},
          "mark": {"type": "rule", "color": "#23238E", "strokeWidth": 1.8},
          "encoding": {
            "x": {"field": "xr", "type": "quantitative", "axis": null},
            "y": {"field": "hr", "type": "quantitative", "axis": null},
            "y2": {"field": "h"}
          }
        },
        {
          "data": {"name": "colLinks"},
          "mark": {"type": "circle", "size": 14, "color": "#000000", "opacity": 1},
          "encoding": {
            "x": {"field": "x", "type": "quantitative", "axis": null},
            "y": {"field": "h", "type": "quantitative", "axis": null}
          }
        },
        {
          "data": {"name": "colLeaves"},
          "mark": {"type": "circle", "size": 14, "color": "#000000", "opacity": 1},
          "encoding": {
            "x": {"field": "x", "type": "quantitative", "axis": null},
            "y": {"datum": 0, "type": "quantitative", "axis": null}
          }
        }
      ]
    },
    {
      "width": 73,
      "height": 250,
      "title": {"text": "Water Type", "orient": "left", "fontSize": 17, "fontWeight": "bold", "color": "#000000", "anchor": "middle", "offset": 2},
      "layer": [
        {
          "data": {"name": "rowLinks"},
          "mark": {"type": "rule", "color": "#23238E", "strokeWidth": 1.8},
          "encoding": {
            "x": {"field": "h", "type": "quantitative", "scale": {"domain": [0, 5.6], "nice": false, "reverse": true}, "axis": null},
            "y": {"field": "yl", "type": "quantitative", "scale": {"domain": [-0.5, 17.5], "nice": false, "zero": false, "reverse": true}, "axis": null},
            "y2": {"field": "yr"}
          }
        },
        {
          "data": {"name": "rowLinks"},
          "mark": {"type": "rule", "color": "#23238E", "strokeWidth": 1.8},
          "encoding": {
            "x": {"field": "hl", "type": "quantitative", "axis": null},
            "x2": {"field": "h"},
            "y": {"field": "yl", "type": "quantitative", "axis": null}
          }
        },
        {
          "data": {"name": "rowLinks"},
          "mark": {"type": "rule", "color": "#23238E", "strokeWidth": 1.8},
          "encoding": {
            "x": {"field": "hr", "type": "quantitative", "axis": null},
            "x2": {"field": "h"},
            "y": {"field": "yr", "type": "quantitative", "axis": null}
          }
        },
        {
          "data": {"name": "rowLinks"},
          "mark": {"type": "circle", "size": 14, "color": "#000000", "opacity": 1},
          "encoding": {
            "x": {"field": "h", "type": "quantitative", "axis": null},
            "y": {"field": "y", "type": "quantitative", "axis": null}
          }
        },
        {
          "data": {"name": "rowLeaves"},
          "mark": {"type": "circle", "size": 14, "color": "#000000", "opacity": 1},
          "encoding": {
            "x": {"datum": 0, "type": "quantitative", "axis": null},
            "y": {"field": "y", "type": "quantitative", "axis": null}
          }
        }
      ]
    },
    {
      "width": 374,
      "height": 250,
      "data": {"name": "cells"},
      "mark": {"type": "rect", "stroke": "#D0D0D0", "strokeWidth": 1},
      "encoding": {
        "x": {
          "field": "s", "type": "nominal",
          "sort": ["SDS", "SLS", "Triton_X100", "SAP", "SDBS", "RHA", "LDBAB", "FAPEA", "DOSS", "PMA_Na", "EO_10", "Amine", "Ester", "LPS", "Hitenol_BC", "Tween_80", "MAPK", "NP_10", "Tween_20", "HTAC", "PAIC_Citron", "GMC", "CTAC", "STS", "CTAB", "PF68", "Oleyl_Alcohol", "TDTABr", "HTABr", "OTABr"],
          "scale": {"paddingInner": 0, "paddingOuter": 0},
          "axis": {"orient": "bottom", "title": null, "labelAngle": -90, "ticks": false, "domain": false, "labelPadding": 3, "labelFontSize": 9.6, "labelColor": "#333333"}
        },
        "y": {
          "field": "w", "type": "nominal",
          "sort": ["Tap water", "Deionized water", "Ultrapure water", "Pure water", "Demineralized water", "Clean salt water", "Filtered/sterilized groundwater", "Filtered tap water", "Double distilled water", "Degassed water", "Double distilled and deionized water", "Sea water", "Unpolluted water (comparator)", "Purified water", "Clean water", "NaCl aqueous solution", "Water", "Distilled water"],
          "scale": {"paddingInner": 0, "paddingOuter": 0},
          "axis": {"orient": "right", "title": null, "ticks": false, "domain": false, "labelPadding": 3, "labelFontSize": 9.6, "labelColor": "#333333"}
        },
        "color": {
          "field": "f", "type": "quantitative",
          "scale": {"domain": [0, 1, 2, 3, 4], "range": ["#FFFFFF", "#C6CCE4", "#8A96C6", "#5268A8", "#0B3D87"]},
          "legend": {
            "title": "Frequency", "orient": "none", "legendX": 614, "legendY": 122,
            "direction": "vertical", "gradientLength": 133, "gradientThickness": 13,
            "values": [0, 1, 2, 3, 4],
            "titleFontSize": 14, "titleFontWeight": "bold", "titleColor": "#000000", "titlePadding": 4,
            "labelFontSize": 12, "labelColor": "#333333", "labelOffset": 4
          }
        }
      }
    }
  ]
}
